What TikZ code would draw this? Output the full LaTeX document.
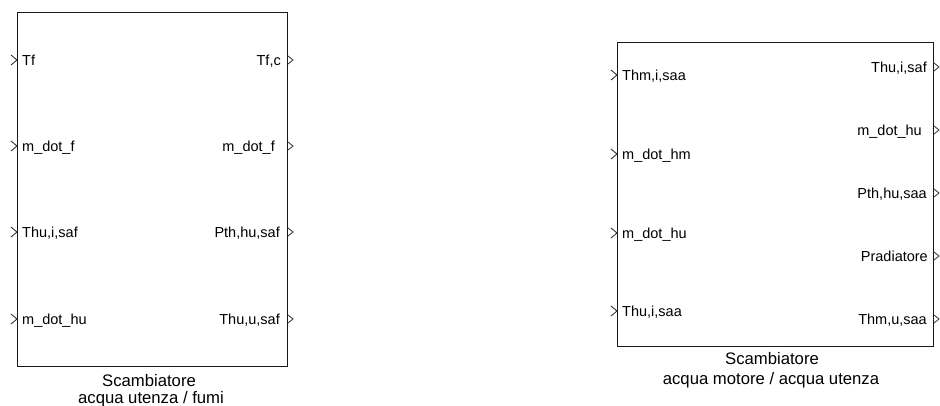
\documentclass[tikz,border=0pt]{standalone}
\usepackage{fontspec}
\setmainfont{Liberation Sans}
\usetikzlibrary{positioning}

\begin{document}
\begin{tikzpicture}[x=1pt, y=-1pt,
  block/.style={rectangle, draw=black!90, line width=1.3pt, inner sep=0pt, anchor=north west},
  inlbl/.style={anchor=base west, inner sep=0pt, font=\fontsize{14.5}{16}\selectfont},
  outlbl/.style={anchor=base east, inner sep=0pt, font=\fontsize{14.5}{16}\selectfont},
  caption/.style={anchor=base, inner sep=0pt, font=\fontsize{16.7}{19}\selectfont},
  inport/.style={draw=black!80, line width=0.9pt},
  outport/.style={draw=black!80, line width=0.8pt}]
\useasboundingbox (0,0) rectangle (940,405);

% scambiatore acqua utenza / fumi
\node[block, minimum width=270pt, minimum height=354pt] (saf) at (17,12) {};
\node[inlbl] (tf) at (22,65) {Tf};
\node[inlbl] (mdotf) at (22,151) {m\_dot\_f};
\node[inlbl] (thuisaf) at (22,237) {Thu,i,saf};
\node[inlbl] (mdothu) at (22,324) {m\_dot\_hu};
\node[outlbl] (tfc) at (281,65) {Tf,c};
\node[outlbl] (mdotfo) at (275,151) {m\_dot\_f};
\node[outlbl] (pthhusaf) at (280,237) {Pth,hu,saf};
\node[outlbl] (thuusaf) at (280,324) {Thu,u,saf};
\node[caption] (safname) at (149,386) {Scambiatore};
\node[caption] (safsub) at (151,403) {acqua utenza / fumi};

% scambiatore acqua motore / acqua utenza
\node[block, minimum width=316pt, minimum height=304pt] (saa) at (617,42) {};
\node[inlbl] (thmisaa) at (622,80) {Thm,i,saa};
\node[inlbl] (mdothm) at (622,159) {m\_dot\_hm};
\node[inlbl] (mdothui) at (622,238) {m\_dot\_hu};
\node[inlbl] (thuisaa) at (622,316) {Thu,i,saa};
\node[outlbl] (thuisafo) at (927,72) {Thu,i,saf};
\node[outlbl] (mdothuo) at (922,135) {m\_dot\_hu};
\node[outlbl] (pthhusaa) at (927,198) {Pth,hu,saa};
\node[outlbl] (pradiatore) at (928,261) {Pradiatore};
\node[outlbl] (thmusaa) at (927,324) {Thm,u,saa};
\node[caption] (saaname) at (772,364) {Scambiatore};
\node[caption] (saasub) at (771,384) {acqua motore / acqua utenza};

% porte
\foreach \y in {60,146,232,319}{
  \draw[inport] (11,\y-5) -- (17,\y) -- (11,\y+5);
  \draw[outport] (288,\y-4) -- (293,\y) -- (288,\y+4);
}
\foreach \y in {75,154,233,311}
  \draw[inport] (611,\y-5) -- (617,\y) -- (611,\y+5);
\foreach \y in {67,130,193,256,319}
  \draw[outport] (934,\y-4) -- (939,\y) -- (934,\y+4);
\end{tikzpicture}
\end{document}
